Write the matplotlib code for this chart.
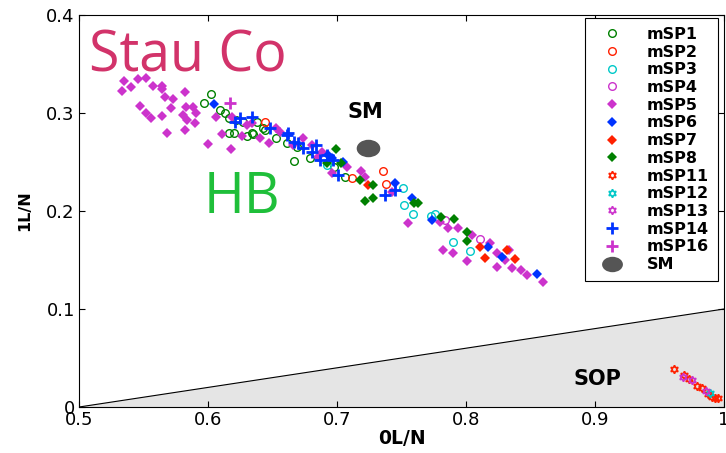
import numpy as np
import matplotlib
matplotlib.use("Agg")
import matplotlib.pyplot as plt
from matplotlib.path import Path

plt.rcParams['font.family'] = ['DejaVu Sans']

# data (0L/N, 1L/N)
msp1_x = [0.602, 0.597, 0.609, 0.613, 0.616, 0.622, 0.627, 0.616, 0.620, 0.630, 0.634,
          0.638, 0.643, 0.635, 0.644, 0.653, 0.661, 0.669, 0.667, 0.679, 0.698, 0.706]
msp1_y = [0.319, 0.310, 0.303, 0.300, 0.295, 0.293, 0.291, 0.280, 0.280, 0.276, 0.280,
          0.291, 0.285, 0.279, 0.283, 0.274, 0.269, 0.265, 0.251, 0.254, 0.245, 0.235]

msp2_x = [0.736, 0.712, 0.738, 0.644]
msp2_y = [0.241, 0.234, 0.228, 0.291]

msp3_x = [0.751, 0.752, 0.759, 0.773, 0.776, 0.790, 0.803, 0.692]
msp3_y = [0.223, 0.206, 0.197, 0.195, 0.197, 0.168, 0.159, 0.247]

msp4_x = [0.784, 0.811]
msp4_y = [0.191, 0.171]

msp5_x = [0.535, 0.546, 0.552, 0.540, 0.533, 0.557, 0.564, 0.564, 0.582, 0.567, 0.573,
          0.547, 0.571, 0.552, 0.556, 0.564, 0.583, 0.588, 0.581, 0.591, 0.584, 0.590,
          0.582, 0.568, 0.600, 0.618, 0.606, 0.611, 0.626, 0.630, 0.619,
          0.640, 0.647, 0.656, 0.653, 0.666, 0.674, 0.681, 0.685, 0.688, 0.696, 0.708,
          0.719, 0.722, 0.634, 0.743,
          0.755, 0.780, 0.786, 0.794, 0.805, 0.819, 0.782, 0.790, 0.801, 0.824, 0.833,
          0.830, 0.824, 0.836, 0.843, 0.847, 0.860]
msp5_y = [0.333, 0.335, 0.336, 0.327, 0.322, 0.328, 0.328, 0.324, 0.321, 0.316, 0.314,
          0.307, 0.305, 0.300, 0.295, 0.297, 0.306, 0.306, 0.298, 0.300, 0.293, 0.290,
          0.283, 0.280, 0.268, 0.263, 0.296, 0.279, 0.276, 0.288, 0.296,
          0.274, 0.269, 0.281, 0.285, 0.267, 0.274, 0.267, 0.255, 0.260, 0.239, 0.245,
          0.241, 0.235, 0.290, 0.219,
          0.188, 0.189, 0.183, 0.183, 0.176, 0.167, 0.160, 0.157, 0.149, 0.157, 0.160,
          0.150, 0.143, 0.142, 0.140, 0.135, 0.128]

msp6_x = [0.605, 0.693, 0.696, 0.705, 0.745, 0.758, 0.817, 0.828, 0.855, 0.774]
msp6_y = [0.309, 0.257, 0.254, 0.250, 0.229, 0.213, 0.163, 0.153, 0.136, 0.191]

msp7_x = [0.724, 0.811, 0.815, 0.838, 0.832]
msp7_y = [0.227, 0.163, 0.152, 0.151, 0.160]

msp8_x = [0.699, 0.692, 0.703, 0.718, 0.728, 0.722, 0.728, 0.760, 0.763, 0.781, 0.791,
          0.801, 0.801]
msp8_y = [0.263, 0.249, 0.249, 0.232, 0.227, 0.210, 0.213, 0.208, 0.208, 0.194, 0.192,
          0.179, 0.169]

msp11_x = [0.961, 0.969, 0.973, 0.979, 0.983, 0.988, 0.993, 0.995, 0.991]
msp11_y = [0.039, 0.033, 0.029, 0.021, 0.019, 0.013, 0.009, 0.009, 0.010]

msp12_x = [0.989]
msp12_y = [0.014]

msp13_x = [0.968, 0.986, 0.975]
msp13_y = [0.031, 0.016, 0.028]

msp14_x = [0.634, 0.621, 0.661, 0.670, 0.674, 0.687, 0.648, 0.662, 0.667, 0.684, 0.681,
           0.692, 0.701, 0.697, 0.737, 0.745, 0.625]
msp14_y = [0.296, 0.291, 0.278, 0.269, 0.264, 0.252, 0.285, 0.280, 0.270, 0.267, 0.260,
           0.257, 0.237, 0.252, 0.216, 0.221, 0.295]

msp16_x = [0.617]
msp16_y = [0.310]

sm_x, sm_y = 0.724, 0.264

fig = plt.figure(figsize=(7.26, 4.53), dpi=100)
ax = fig.add_axes([0.1088, 0.1015, 0.8884, 0.8655])

# SOP region under the line from (0.5,0) to (1,0.1)
bx = np.array([0.5, 1.0])
ax.fill_between(bx, 0, 0.2 * (bx - 0.5), color='#e5e5e5', zorder=0)
ax.plot(bx, 0.2 * (bx - 0.5), color='k', lw=0.8, zorder=1)

star = (6, 1, 0)
circ = Path.unit_circle()
ellipse = Path(circ.vertices * [1.0, 0.74], circ.codes)

ax.plot(msp1_x, msp1_y, 'o', mfc='none', mec='#008000', ms=5.5, mew=1, label='mSP1')
ax.plot(msp2_x, msp2_y, 'o', mfc='none', mec='#ff2000', ms=5.5, mew=1, label='mSP2')
ax.plot(msp3_x, msp3_y, 'o', mfc='none', mec='#00c8c8', ms=5.5, mew=1, label='mSP3')
ax.plot(msp4_x, msp4_y, 'o', mfc='none', mec='#cc33cc', ms=5.5, mew=1, label='mSP4')
ax.plot(msp5_x, msp5_y, 'D', color='#cc33cc', ms=5, mew=0, label='mSP5')
ax.plot(msp6_x, msp6_y, 'D', color='#0033ff', ms=5, mew=0, label='mSP6')
ax.plot(msp7_x, msp7_y, 'D', color='#ff2000', ms=5, mew=0, label='mSP7')
ax.plot(msp8_x, msp8_y, 'D', color='#008000', ms=5, mew=0, label='mSP8')
ax.plot(msp11_x, msp11_y, marker=star, ls='none', mfc='none', mec='#ff2000', ms=6, mew=1.2, label='mSP11')
ax.plot(msp12_x, msp12_y, marker=star, ls='none', mfc='none', mec='#00c8c8', ms=6, mew=1.2, label='mSP12')
ax.plot(msp13_x, msp13_y, marker=star, ls='none', mfc='none', mec='#cc33cc', ms=6, mew=1.2, label='mSP13')
ax.plot(msp14_x, msp14_y, '+', color='#0033ff', ms=8, mew=2, label='mSP14')
ax.plot(msp16_x, msp16_y, '+', color='#cc33cc', ms=8, mew=2, label='mSP16')
ax.plot([sm_x], [sm_y], marker=ellipse, ls='none', color='#555555', ms=17, mew=0, label='SM')

ax.text(0.722, 0.301, 'SM', fontsize=15, fontweight='bold', ha='center', va='center')
ax.text(0.902, 0.029, 'SOP', fontsize=15, fontweight='bold', ha='center', va='center')
ax.text(0.508, 0.342, 'Stau Co', fontsize=40, color='#d2336a', family='Open Sans', va='baseline')
ax.text(0.597, 0.198, 'HB', fontsize=40, color='#1fbf3a', family='Open Sans', va='baseline')

ax.set_xlim(0.5, 1.0)
ax.set_ylim(0, 0.4)
ax.set_xticks([0.5, 0.6, 0.7, 0.8, 0.9, 1.0])
ax.set_xticklabels(['0.5', '0.6', '0.7', '0.8', '0.9', '1'])
ax.set_yticks([0, 0.1, 0.2, 0.3, 0.4])
ax.set_yticklabels(['0', '0.1', '0.2', '0.3', '0.4'])
ax.tick_params(direction='in', top=True, right=True, labelsize=13, length=4, pad=3)
ax.set_xlabel('0L/N', fontsize=13.5, fontweight='bold', labelpad=0)
ax.set_ylabel('1L/N', fontsize=11.5, fontweight='bold', labelpad=10)

leg = ax.legend(loc='upper right', bbox_to_anchor=(0.9907, 0.992), borderaxespad=0,
                prop={'weight': 'bold', 'size': 11.5}, labelspacing=0.17, handletextpad=1.1,
                fancybox=False, framealpha=1, edgecolor='k', numpoints=1,
                handlelength=2.25, borderpad=0.55)
leg.get_frame().set_linewidth(0.8)
leg.legend_handles[-1].set_markersize(15)

fig.savefig('out.png', dpi=100)
